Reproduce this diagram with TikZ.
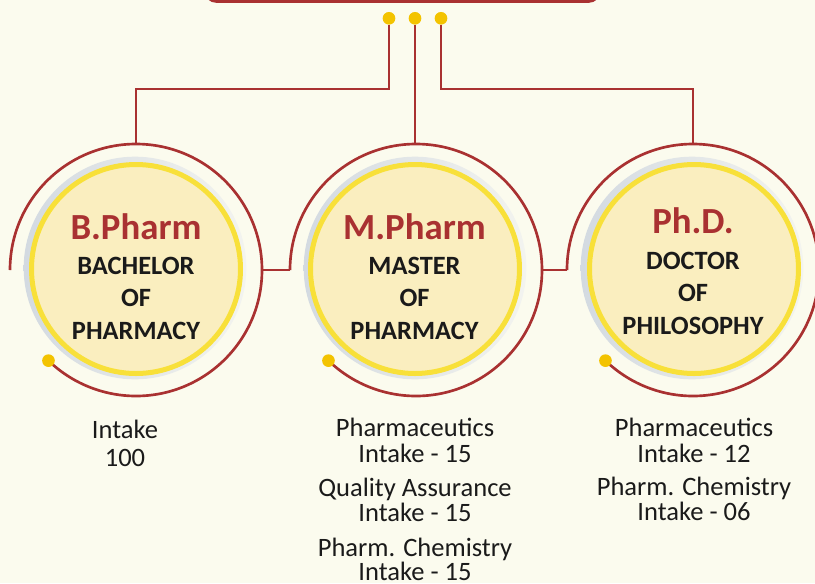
\documentclass[tikz,border=0pt]{standalone}
\usepackage{fontspec}
\setmainfont{Carlito}
\usetikzlibrary{calc}
\definecolor{bgc}{HTML}{FBFBEE}
\definecolor{redc}{HTML}{A93131}
\definecolor{dotc}{HTML}{F3C300}
\definecolor{ringc}{HTML}{F8E039}
\definecolor{fillc}{HTML}{FAEEBF}
\definecolor{greyl}{HTML}{D3DAE1}
\definecolor{greyr}{HTML}{F3F4EF}
\definecolor{txtc}{HTML}{1A1A1A}
\tikzset{
  redline/.style={draw=redc, line width=2pt},
  conn/.style={draw=redc, line width=2.2pt},
  outer/.style={circle, minimum size=189pt, inner sep=0pt, outer sep=0pt},
  inner/.style={circle, fill=fillc, draw=ringc, line width=3.75pt, minimum size=156.75pt, inner sep=0pt},
  ydot/.style={circle, fill=dotc, minimum size=9.5pt, inner sep=0pt, outer sep=0pt},
  titletxt/.style={anchor=base, text=redc, font=\bfseries\fontsize{27.6}{30}\selectfont, inner sep=0pt},
  subtxt/.style={anchor=base, text=txtc, font=\bfseries\fontsize{19.8}{22}\selectfont, inner sep=0pt},
  bodytxt/.style={anchor=base, text=txtc, font=\fontsize{19.9}{22}\selectfont, inner sep=0pt}
}
\begin{document}
\begin{tikzpicture}[x=0.75pt, y=-0.75pt]
\fill[bgc] (0,0) rectangle (815,583);
\useasboundingbox (0,0) rectangle (815,583);
% top box
\draw[redc, line width=2.2pt, rounded corners=9pt] (205,-40) rectangle (600,1.5);
% outer arc holders
\node[outer] (b) at (136,270) {};
\node[outer] (m) at (416,270) {};
\node[outer] (p) at (693,270) {};
% grey rings
\shade[left color=greyl, right color=greyr] (135,268) circle[radius=83.5pt];
\shade[left color=greyl, right color=greyr] (415,268) circle[radius=83.5pt];
\shade[left color=greyl, right color=greyr] (692,268) circle[radius=83.5pt];
% yellow circles
\node[inner] (bc) at (136,269) {};
\node[inner] (mc) at (415,269) {};
\node[inner] (pc) at (694,269) {};
% red arcs
\draw[redline] (b.west) arc[start angle=180, end angle=-134, radius=94.5pt];
\draw[redline] (m.west) arc[start angle=180, end angle=-134, radius=94.5pt];
\draw[redline] (p.west) arc[start angle=180, end angle=-134, radius=94.5pt];
\node[ydot] (bd) at (b.-134) {};
\node[ydot] (md) at (m.-134) {};
\node[ydot] (pd) at (p.-134) {};
% horizontal links
\draw[redline] (b.east) -- (m.west);
\draw[redline] (m.east) -- (p.west);
% top dots
\node[ydot] (t1) at (389,18.3) {};
\node[ydot] (t2) at (415,18.3) {};
\node[ydot] (t3) at (441,18.3) {};
\coordinate (h) at (0,89);
\draw[conn] (t1.south) -- (t1.south |- h) -| (b.north);
\draw[conn] (t2.south) -- (t2.south |- m.north);
\draw[conn] (t3.south) -- (t3.south |- h) -| (p.north);
% circle texts
\node[titletxt] (bt) at (136,239) {B.Pharm};
\node[subtxt] (b1) at (136,274.3) {BACHELOR};
\node[subtxt] (b2) at (136,306.7) {OF};
\node[subtxt] (b3) at (136,339.3) {PHARMACY};
\node[titletxt] (mt) at (414.5,239) {M.Pharm};
\node[subtxt] (m1) at (414.5,274) {MASTER};
\node[subtxt] (m2) at (414.5,306.7) {OF};
\node[subtxt] (m3) at (414.5,339) {PHARMACY};
\node[titletxt] (pt) at (693,233) {Ph.D.};
\node[subtxt] (p1) at (693,269.3) {DOCTOR};
\node[subtxt] (p2) at (693,301.7) {OF};
\node[subtxt] (p3) at (693,334) {PHILOSOPHY};
% intake texts
\node[bodytxt] (bi1) at (125,438) {Intake};
\node[bodytxt] (bi2) at (125,466) {100};
\node[bodytxt] (mi1) at (415,436.7) {Pharmaceutics};
\node[bodytxt] (mi2) at (415,462.3) {Intake - 15};
\node[bodytxt] (mi3) at (415,496) {Quality Assurance};
\node[bodytxt] (mi4) at (415,521.7) {Intake - 15};
\node[bodytxt] (mi5) at (415,556.2) {Pharm. Chemistry};
\node[bodytxt] (mi6) at (415,580.5) {Intake - 15};
\node[bodytxt] (pi1) at (694,436.7) {Pharmaceutics};
\node[bodytxt] (pi2) at (694,462.3) {Intake - 12};
\node[bodytxt] (pi3) at (694,495) {Pharm. Chemistry};
\node[bodytxt] (pi4) at (694,520) {Intake - 06};
\end{tikzpicture}
\end{document}
